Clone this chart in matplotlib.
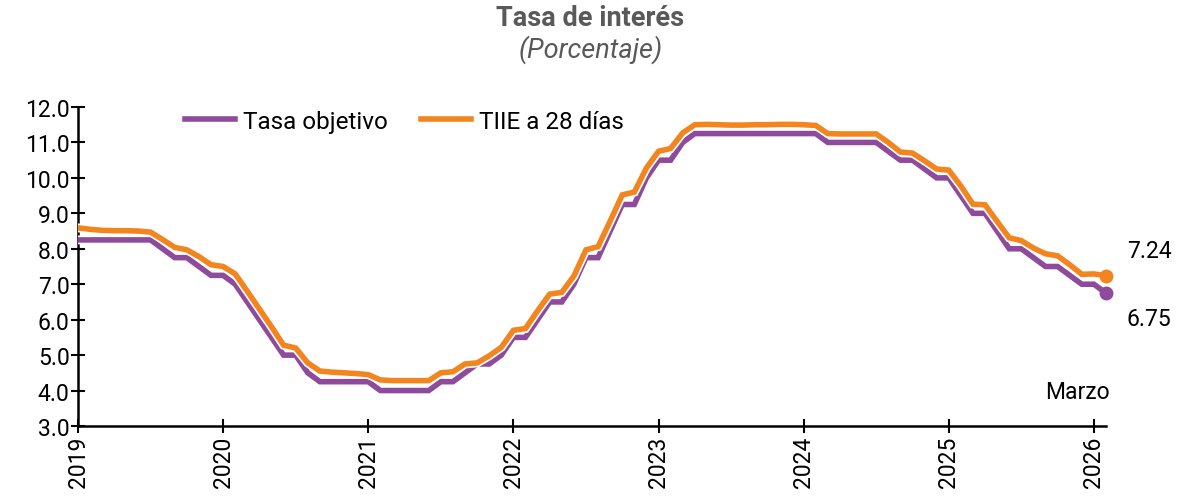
import matplotlib
matplotlib.use("Agg")
import matplotlib.pyplot as plt
import matplotlib.patheffects as pe
import numpy as np

plt.rcParams['font.family'] = ['Roboto', 'DejaVu Sans']

# monthly data, Jan 2019 .. last observation (Marzo 2026)
years = ["2019", "2020", "2021", "2022", "2023", "2024", "2025", "2026"]

tasa_objetivo = [
    8.25, 8.25, 8.25, 8.25, 8.25, 8.25, 8.25, 8.00, 7.75, 7.75, 7.50, 7.25,
    7.25, 7.00, 6.50, 6.00, 5.50, 5.00, 5.00, 4.50, 4.25, 4.25, 4.25, 4.25,
    4.25, 4.00, 4.00, 4.00, 4.00, 4.00, 4.25, 4.25, 4.50, 4.75, 4.75, 5.00,
    5.50, 5.50, 6.00, 6.50, 6.50, 7.00, 7.75, 7.75, 8.50, 9.25, 9.25, 10.00,
    10.50, 10.50, 11.00, 11.25, 11.25, 11.25, 11.25, 11.25, 11.25, 11.25, 11.25, 11.25,
    11.25, 11.25, 11.00, 11.00, 11.00, 11.00, 11.00, 10.75, 10.50, 10.50, 10.25, 10.00,
    10.00, 9.50, 9.00, 9.00, 8.50, 8.00, 8.00, 7.75, 7.50, 7.50, 7.25, 7.00,
    7.00, 6.75,
]

tiie_28 = [
    8.59, 8.55, 8.52, 8.51, 8.51, 8.50, 8.47, 8.26, 8.04, 7.97, 7.78, 7.55,
    7.50, 7.29, 6.80, 6.30, 5.80, 5.28, 5.20, 4.78, 4.55, 4.52, 4.50, 4.48,
    4.45, 4.30, 4.28, 4.28, 4.28, 4.28, 4.50, 4.53, 4.75, 4.78, 4.98, 5.22,
    5.70, 5.75, 6.25, 6.72, 6.77, 7.23, 7.97, 8.06, 8.78, 9.52, 9.60, 10.28,
    10.75, 10.83, 11.27, 11.50, 11.51, 11.50, 11.49, 11.49, 11.50, 11.50, 11.51, 11.51,
    11.50, 11.48, 11.25, 11.24, 11.24, 11.24, 11.24, 11.00, 10.73, 10.70, 10.48, 10.25,
    10.22, 9.77, 9.26, 9.24, 8.77, 8.31, 8.23, 8.02, 7.86, 7.80, 7.55, 7.28,
    7.29, 7.24,
]

PURPLE = '#8E4B9B'
ORANGE = '#F2851E'
GRAY = '#595959'

x = np.arange(len(tasa_objetivo))

fig = plt.figure(figsize=(11.81, 5.02), dpi=100)
ax = fig.add_axes([78 / 1181, 1 - 427 / 502, (1106 - 78) / 1181, (427 - 108) / 502])

outline = [pe.Stroke(linewidth=6.4, foreground='white'), pe.Normal()]
l1, = ax.plot(x, tasa_objetivo, color=PURPLE, lw=4.0, solid_joinstyle='miter',
              path_effects=outline, label='Tasa objetivo', zorder=3)
l2, = ax.plot(x, tiie_28, color=ORANGE, lw=4.0, solid_joinstyle='miter',
              path_effects=outline, label='TIIE a 28 días', zorder=4)

# end markers and labels
ax.plot(x[-1], tasa_objetivo[-1], 'o', color=PURPLE, ms=9, zorder=5, clip_on=False)
ax.plot(x[-1], tiie_28[-1], 'o', color=ORANGE, ms=9, zorder=6, clip_on=False)
ax.annotate(f"{tiie_28[-1]:.2f}", (x[-1], tiie_28[-1]), xytext=(15, 18),
            textcoords='offset points', ha='left', va='center', fontsize=16.5)
ax.annotate(f"{tasa_objetivo[-1]:.2f}", (x[-1], tasa_objetivo[-1]), xytext=(15, -18),
            textcoords='offset points', ha='left', va='center', fontsize=16.5)
ax.text(85.3, 3.96, 'Marzo', ha='right', va='center', fontsize=16.5)

ax.set_xlim(0, len(x) - 1)
ax.set_ylim(3, 12)
ax.set_yticks(np.arange(3, 13, 1))
ax.set_yticklabels([f"{v:.1f}" for v in np.arange(3, 13, 1)])
ax.set_xticks(np.arange(0, 12 * len(years), 12))
ax.set_xticklabels(years, rotation=90)

for s in ['top', 'right']:
    ax.spines[s].set_visible(False)
for s in ['left', 'bottom']:
    ax.spines[s].set_linewidth(1.8)
    ax.spines[s].set_color('black')
ax.tick_params(axis='both', direction='inout', length=10, width=1.5, labelsize=16.5, colors='black')
ax.tick_params(axis='x', pad=2)
ax.tick_params(axis='y', pad=1)

ax.legend(handles=[l1, l2], loc='upper left', bbox_to_anchor=(0.083, 1.06), ncol=2,
          frameon=False, fontsize=17.5, handlelength=2.05, handletextpad=0.33,
          columnspacing=1.36)

fig.text(0.5, 1 - 19 / 502, 'Tasa de interés', ha='center', va='center',
         fontsize=19.5, fontweight='bold', color=GRAY)
fig.text(0.5, 1 - 50 / 502, '(Porcentaje)', ha='center', va='center',
         fontsize=19.5, style='italic', color=GRAY)

fig.savefig('out.png', dpi=100)
